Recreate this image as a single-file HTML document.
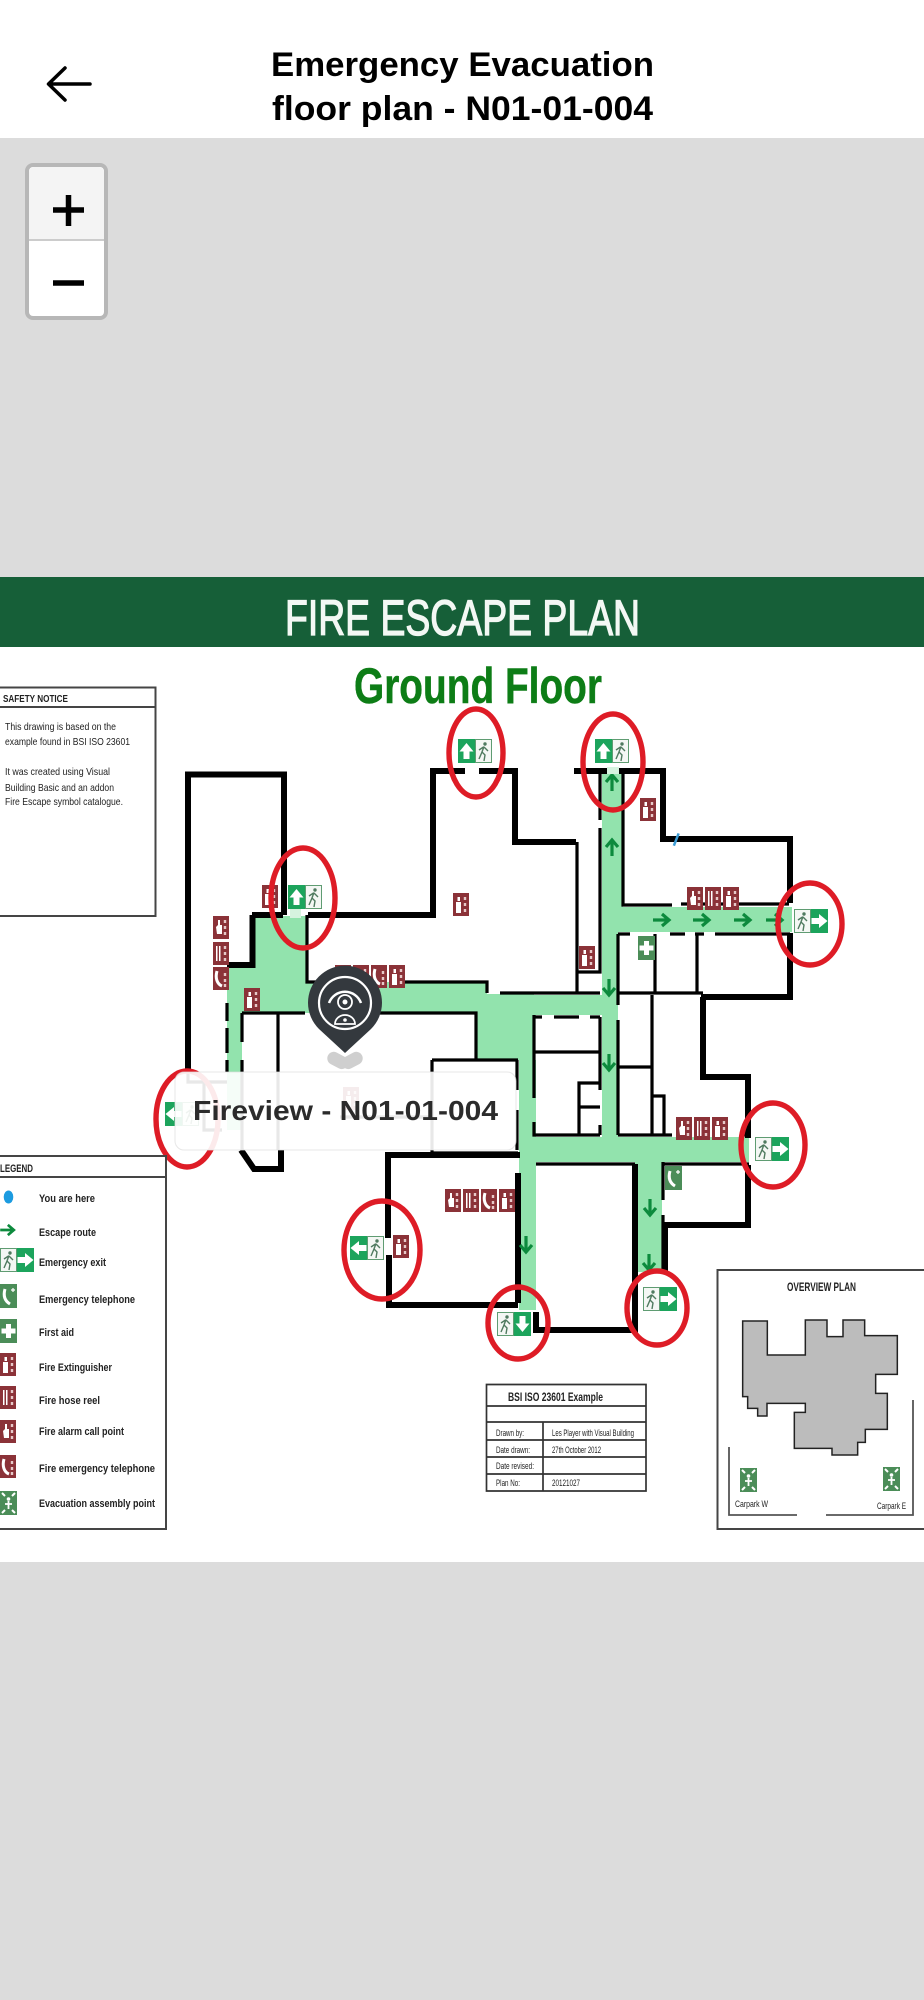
<!DOCTYPE html>
<html lang="en"><head><meta charset="utf-8"><title>Emergency Evacuation floor plan - N01-01-004</title>
<style>html,body{margin:0;padding:0;background:#dcdcdc}svg{display:block}text{font-family:"Liberation Sans",sans-serif}</style></head>
<body>
<svg xmlns="http://www.w3.org/2000/svg" width="924" height="2000" viewBox="0 0 924 2000">
<defs>
<filter id="soft" filterUnits="userSpaceOnUse" x="-10" y="570" width="944" height="1000"><feGaussianBlur stdDeviation=".35"/></filter>
<path id="ar" d="M8.500 4 L15.500 12.500 H11.500 V20 H5.500 V12.500 H1.500 Z" fill="#fff"/>
<rect id="gb" width="17" height="24" fill="#1ba45b"/>
<g id="rn"><rect x=".5" y=".5" width="16" height="23" fill="#f4f7f4" stroke="#5f9c72"/><circle cx="10" cy="5" r="1.700" fill="#4f7a5f"/><path d="M9 7.500 L7 13 L10 16 L9 22 M7 13 L4 20 M9 8 L13 12 M8.500 8 L4 11" fill="none" stroke="#4f7a5f" stroke-width="1.400"/></g>
<path id="sa" d="M0 8 V-7 M-6 -1 L0 -8 L6 -1" fill="none" stroke="#0b8a3d" stroke-width="3.200"/>
<g id="re"><rect width="16" height="23" fill="#8b3338"/><rect x="3" y="9" width="5" height="11" fill="#fff"/><rect x="4.500" y="4" width="2.500" height="4" fill="#fff"/><path d="M12 4v3M12 10v3M12 16v3" stroke="#e7c9c9" stroke-width="2.400"/></g>
<g id="rh"><rect width="16" height="23" fill="#8b3338"/><path d="M3 4h1.500v15h-1.500zM6 4h1.500v15h-1.500z" fill="#fff"/><path d="M12 4v3M12 10v3M12 16v3" stroke="#e7c9c9" stroke-width="2.400"/></g>
<g id="ra"><rect width="16" height="23" fill="#8b3338"/><path d="M3 11 L5 9 V4 H7 V9 H9 V18 H4 Z" fill="#fff"/><path d="M12 4v3M12 10v3M12 16v3" stroke="#e7c9c9" stroke-width="2.400"/></g>
<g id="rt"><rect width="16" height="23" fill="#8b3338"/><path d="M4 4 C2 11 4 17 9 19" fill="none" stroke="#fff" stroke-width="3"/><path d="M12 6v3M12 12v3M12 17v3" stroke="#e7c9c9" stroke-width="2.400"/></g>
<g id="gf"><rect width="17" height="24" fill="#4c8d59"/><path d="M6 5h5v4.500h4.500v5H11v4.500H6v-4.500H1.500v-5H6z" fill="#fff"/></g>
<g id="gt"><rect width="17" height="24" fill="#4c8d59"/><path d="M5 5 C3 12 5 17 10 20" fill="none" stroke="#fff" stroke-width="3"/><path d="M13 4v4M11 6h4" stroke="#fff" stroke-width="1.200"/></g>
<g id="gm"><rect width="17" height="24" fill="#4c8d59"/><circle cx="8.500" cy="8" r="1.800" fill="#fff"/><path d="M8.500 10v8M5 13h7" stroke="#fff" stroke-width="1.800"/><path d="M2 2l3 3M15 2l-3 3M2 22l3-3M15 22l-3-3" stroke="#fff" stroke-width="2"/></g>
</defs>

<rect width="924" height="2000" fill="#dcdcdc"/>
<rect width="924" height="138" fill="#fff"/>
<text x="462.500" y="76" font-size="34" font-weight="700" text-anchor="middle" textLength="383" lengthAdjust="spacingAndGlyphs" fill="#000">Emergency Evacuation</text>
<text x="462.500" y="120" font-size="34" font-weight="700" text-anchor="middle" textLength="381" lengthAdjust="spacingAndGlyphs" fill="#000">floor plan - N01-01-004</text>
<path d="M90 84 H49 M65 68 L48.500 84 L65 100" fill="none" stroke="#000" stroke-width="3.500" stroke-linecap="round" stroke-linejoin="round"/>

<rect x="27" y="165" width="79" height="153" rx="6" fill="#fff" stroke="#b7b7b7" stroke-width="4"/>
<path d="M29 239 V172 a5 5 0 0 1 5 -5 H99 a5 5 0 0 1 5 5 V239 Z" fill="#f4f4f4"/>
<rect x="29" y="239" width="75" height="2" fill="#cccccc"/>
<path d="M53 210 H84 M68.500 195 V226 M53 283 H84" fill="none" stroke="#000" stroke-width="5.500"/>

<!-- plan sheet -->
<g filter="url(#soft)">
<rect x="-10" y="577" width="944" height="985" fill="#fff"/>
<rect x="-10" y="577" width="944" height="70" fill="#185f39"/>
<text x="285" y="635" font-size="50" textLength="355" lengthAdjust="spacingAndGlyphs" fill="#f3f8f4" stroke="#f3f8f4" stroke-width="1.300">FIRE ESCAPE PLAN</text>
<text x="354" y="703" font-size="50" font-weight="700" stroke="#0f7d18" stroke-width=".5" textLength="248" lengthAdjust="spacingAndGlyphs" fill="#0f7d18">Ground Floor</text>

<!-- safety notice -->
<path d="M-5 687.500 H155.500 V916 H-5 M-5 707 H155.500" fill="none" stroke="#444" stroke-width="2"/>
<g fill="#222" font-size="10.500">
<text x="3" y="702" font-weight="700" textLength="65" lengthAdjust="spacingAndGlyphs">SAFETY NOTICE</text>
<text x="5" y="730" textLength="111" lengthAdjust="spacingAndGlyphs">This drawing is based on the</text>
<text x="5" y="745" textLength="125" lengthAdjust="spacingAndGlyphs">example found in BSI ISO 23601</text>
<text x="5" y="775" textLength="105" lengthAdjust="spacingAndGlyphs">It was created using Visual</text>
<text x="5" y="791" textLength="109" lengthAdjust="spacingAndGlyphs">Building Basic and an addon</text>
<text x="5" y="805" textLength="118" lengthAdjust="spacingAndGlyphs">Fire Escape symbol catalogue.</text>
</g>

<!-- green corridors -->
<g fill="#92e3ad">
<rect x="254" y="916" width="52" height="97"/>
<rect x="290" y="900" width="11" height="18" fill="#d6f3df"/>
<rect x="227" y="965" width="28" height="48"/>
<rect x="227" y="1013" width="15" height="117"/>
<rect x="306" y="982" width="172" height="31"/>
<rect x="477" y="982" width="10" height="78"/>
<rect x="487" y="994" width="47" height="66"/>
<rect x="519" y="1060" width="17" height="250"/>
<rect x="534" y="995" width="68" height="20"/>
<rect x="602" y="770" width="21" height="162"/>
<rect x="602" y="932" width="16" height="205"/>
<rect x="623" y="907" width="169" height="25"/>
<rect x="519" y="1137" width="230" height="25"/>
<rect x="635" y="1162" width="27" height="110"/>
</g>

<!-- thick walls -->
<g fill="none" stroke="#000" stroke-width="6" stroke-linejoin="miter">
<path d="M188 1072 V774.500 H284 V915"/>
<path d="M252 915 H283 M252.500 915 V965 H227"/>
<path d="M308 915 H433 V771 H465 M479 771 H515 V842 H576"/>
<path d="M574 771 H607 M619 771 H663 V839 H790 V903 M790 933 V997 H701 M703 997 V1077 H748 V1138 M748 1165 V1225 H665 V1272"/>
<path d="M635 1164 V1330 H536 V1312 M518 1173 V1303 M388 1238 V1155 H520 M389 1255 V1305 H518"/>
<path d="M241 1150 L254 1169 H281 V1150"/>
</g>
<!-- thin walls -->
<g fill="none" stroke="#000" stroke-width="3.200">
<path d="M227 968 V985 M227 1003 V1021 M227 1028 V1053 M227 1060 V1072"/>
<path d="M242 1013 V1042 M242 1060 V1150 M242 1013 H305 M278 1013 V1150 M307 915 V982 H332 M380 1013 H476 V1060 M405 982 H487 V993 M500 993 H600"/>
<path d="M188 1072 V1082 H227 M204 1082 V1130 H222"/>
<path d="M432 1060 H518 M432 1060 V1153 M340 1117 H432 M517 1060 V1090 M517 1110 V1150 M432 1153 H518"/>
<path d="M534 1015 V1098 M534 1122 V1135 H600 M534 1017 H542 M554 1017 H579 M590 1017 H600 M535 1052 H600 M579 1135 V1083 H600 M579 1107 H600 M600 1017 V1090 M600 1125 V1135"/>
<path d="M600 770 V820 M600 828 V972 H577 M577 842 V993 M623 770 V905 H672 M681 904 H789"/>
<path d="M618 934 H630 M670 934 H685 M695 934 H704 M715 934 H790 M618 934 V1005 M618 1020 V1135 M655 934 V993 M697 934 V993 M618 993 H703 M652 995 V1135 M618 1067 H652 M652 1096 H664 V1135 M618 1135 H672 M740 1135 H749"/>
<path d="M663 1162 V1200 M663 1215 V1272 M663 1164 H749"/>
<path d="M536 1164 H635"/>
</g>
<path d="M675 833 L677 846" stroke="#3b9bd4" stroke-width="2.500" transform="rotate(30 676 840)"/>

<!-- red symbols -->
<use href="#re" x="262" y="885"/><use href="#ra" x="213" y="916"/><use href="#rh" x="213" y="942"/><use href="#rt" x="213" y="967"/><use href="#re" x="244" y="988"/>
<use href="#ra" x="335" y="965"/><use href="#rh" x="353" y="965"/><use href="#rt" x="371" y="965"/><use href="#re" x="389" y="965"/>
<use href="#re" x="453" y="893"/><use href="#re" x="640" y="798"/>
<use href="#ra" x="687" y="887"/><use href="#rh" x="705" y="887"/><use href="#re" x="723" y="887"/>
<use href="#re" x="579" y="946"/>
<use href="#gf" x="638" y="936"/>
<use href="#ra" x="676" y="1117"/><use href="#rh" x="694" y="1117"/><use href="#re" x="712" y="1117"/>
<use href="#gt" x="665" y="1166"/>
<use href="#ra" x="445" y="1189"/><use href="#rh" x="463" y="1189"/><use href="#rt" x="481" y="1189"/><use href="#re" x="499" y="1189"/>
<use href="#re" x="393" y="1235"/><use href="#re" x="343" y="1087"/>

<!-- route arrows -->
<use href="#sa" transform="translate(612 783)"/><use href="#sa" transform="translate(612 848)"/>
<use href="#sa" transform="translate(661 920) rotate(90)"/><use href="#sa" transform="translate(701 920) rotate(90)"/><use href="#sa" transform="translate(742 920) rotate(90)"/><use href="#sa" transform="translate(774 920) rotate(90)"/>
<use href="#sa" transform="translate(609 987) rotate(180)"/><use href="#sa" transform="translate(609 1062) rotate(180)"/>
<use href="#sa" transform="translate(526 1244) rotate(180)"/><use href="#sa" transform="translate(650 1207) rotate(180)"/><use href="#sa" transform="translate(649 1262) rotate(180)"/>

<!-- exit signs -->
<g transform="translate(288 885)"><use href="#gb"/><use href="#ar"/><use href="#rn" x="17"/></g>
<g transform="translate(458 739)"><use href="#gb"/><use href="#ar"/><use href="#rn" x="17"/></g>
<g transform="translate(595 739)"><use href="#gb"/><use href="#ar"/><use href="#rn" x="17"/></g>
<g transform="translate(794 909)"><use href="#rn"/><use href="#gb" x="17"/><use href="#ar" x="17" transform="rotate(90 25.500 12)"/></g>
<g transform="translate(755 1137)"><use href="#rn"/><use href="#gb" x="17"/><use href="#ar" x="17" transform="rotate(90 25.500 12)"/></g>
<g transform="translate(643 1287)"><use href="#rn"/><use href="#gb" x="17"/><use href="#ar" x="17" transform="rotate(90 25.500 12)"/></g>
<g transform="translate(497 1312)"><use href="#rn"/><use href="#gb" x="17"/><use href="#ar" x="17" transform="rotate(180 25.500 12)"/></g>
<g transform="translate(350 1236)"><use href="#gb"/><use href="#ar" transform="rotate(-90 8.500 12)"/><use href="#rn" x="17"/></g>
<g transform="translate(165 1102)"><use href="#gb"/><use href="#ar" transform="rotate(-90 8.500 12)"/><use href="#rn" x="17"/></g>

<!-- door openings -->
<g fill="#d6f3df"><rect x="607" y="767" width="12" height="7"/></g>

<!-- red ellipses -->
<g fill="none" stroke="#de1c26" stroke-width="5.400">
<ellipse cx="303" cy="898" rx="32" ry="50"/><ellipse cx="476" cy="753" rx="27" ry="44"/><ellipse cx="613" cy="762" rx="30" ry="48"/><ellipse cx="810" cy="924" rx="32" ry="41"/><ellipse cx="773" cy="1145" rx="32" ry="42"/><ellipse cx="657" cy="1308" rx="30" ry="37"/><ellipse cx="518" cy="1323" rx="30" ry="36"/><ellipse cx="382" cy="1250" rx="38" ry="49"/><ellipse cx="187" cy="1119" rx="31" ry="48"/>
</g>

<!-- legend -->
<path d="M-5 1156 H166 V1529 H-5 M-5 1177 H166" fill="none" stroke="#444" stroke-width="2"/>
<g fill="#222" font-size="11" font-weight="700">
<text x="0" y="1172" textLength="33" lengthAdjust="spacingAndGlyphs">LEGEND</text>
<text x="39" y="1202" textLength="56" lengthAdjust="spacingAndGlyphs">You are here</text>
<text x="39" y="1236" textLength="57" lengthAdjust="spacingAndGlyphs">Escape route</text>
<text x="39" y="1266" textLength="67" lengthAdjust="spacingAndGlyphs">Emergency exit</text>
<text x="39" y="1303" textLength="96" lengthAdjust="spacingAndGlyphs">Emergency telephone</text>
<text x="39" y="1336" textLength="35" lengthAdjust="spacingAndGlyphs">First aid</text>
<text x="39" y="1371" textLength="73" lengthAdjust="spacingAndGlyphs">Fire Extinguisher</text>
<text x="39" y="1404" textLength="61" lengthAdjust="spacingAndGlyphs">Fire hose reel</text>
<text x="39" y="1435" textLength="85" lengthAdjust="spacingAndGlyphs">Fire alarm call point</text>
<text x="39" y="1472" textLength="116" lengthAdjust="spacingAndGlyphs">Fire emergency telephone</text>
<text x="39" y="1507" textLength="116" lengthAdjust="spacingAndGlyphs">Evacuation assembly point</text>
</g>
<ellipse cx="8.500" cy="1197" rx="4.800" ry="6.500" fill="#1d9be0"/>
<use href="#sa" transform="translate(7 1230) rotate(90) scale(.85)"/>
<g transform="translate(0 1248)"><use href="#rn"/><use href="#gb" x="17"/><use href="#ar" x="17" transform="rotate(90 25.500 12)"/></g>
<use href="#gt" x="0" y="1284"/><use href="#gf" x="0" y="1319"/><use href="#re" x="0" y="1353"/><use href="#rh" x="0" y="1386"/><use href="#ra" x="0" y="1420"/><use href="#rt" x="0" y="1455"/><use href="#gm" x="0" y="1491"/>

<!-- title block -->
<path d="M486.500 1384.500 H646 V1491 H486.500 Z M486.500 1406 H646 M486.500 1422 H646 M486.500 1440 H646 M486.500 1457 H646 M486.500 1474 H646 M543 1422 V1491" fill="none" stroke="#333" stroke-width="1.700"/>
<g fill="#222" font-size="9.500">
<text x="508" y="1401" font-size="12" font-weight="700" textLength="95" lengthAdjust="spacingAndGlyphs">BSI ISO 23601 Example</text>
<text x="496" y="1436" textLength="28" lengthAdjust="spacingAndGlyphs">Drawn by:</text>
<text x="552" y="1436" textLength="82" lengthAdjust="spacingAndGlyphs">Les Player with Visual Building</text>
<text x="496" y="1453" textLength="34" lengthAdjust="spacingAndGlyphs">Date drawn:</text>
<text x="552" y="1453" textLength="49" lengthAdjust="spacingAndGlyphs">27th October 2012</text>
<text x="496" y="1469" textLength="38" lengthAdjust="spacingAndGlyphs">Date revised:</text>
<text x="496" y="1486" textLength="24" lengthAdjust="spacingAndGlyphs">Plan No:</text>
<text x="552" y="1486" textLength="28" lengthAdjust="spacingAndGlyphs">20121027</text>
</g>

<!-- overview -->
<path d="M934 1270 H717.500 V1529 H934" fill="none" stroke="#444" stroke-width="2"/>
<text x="787" y="1291" font-size="12" font-weight="700" fill="#222" textLength="69" lengthAdjust="spacingAndGlyphs">OVERVIEW PLAN</text>
<polygon transform="translate(462 1060) scale(.33333)" fill="#bcbcbc" stroke="#222" stroke-width="4.500" points="842,783 916,783 916,885 1030,885 1030,780 1095,780 1095,830 1143,830 1143,780 1208,780 1208,827 1306,827 1306,943 1241,943 1241,1000 1276,1000 1276,1108 1210,1108 1210,1147 1187,1147 1187,1185 1110,1185 1110,1165 997,1165 997,1057 1030,1057 1030,1030 915,1030 915,1068 887,1068 887,1045 857,1045 857,1010 842,1010"/>
<path d="M729 1447 V1515 H797 M826 1515 H913 V1400" fill="none" stroke="#555" stroke-width="1.800"/>
<use href="#gm" x="740" y="1468"/><use href="#gm" x="883" y="1467"/>
<text x="735" y="1507" font-size="9.500" fill="#222" textLength="33" lengthAdjust="spacingAndGlyphs">Carpark W</text>
<text x="877" y="1509" font-size="9.500" fill="#222" textLength="29" lengthAdjust="spacingAndGlyphs">Carpark E</text>
</g>

<!-- popup -->
<rect x="175" y="1072" width="341" height="78" rx="9" fill="#fff" fill-opacity=".91" stroke="#dddddd" stroke-opacity=".7"/>
<text x="193" y="1120" font-size="28" font-weight="700" fill="#2b2b2b" textLength="305" lengthAdjust="spacingAndGlyphs">Fireview - N01-01-004</text>

<!-- pin -->
<g fill="#cfcfcf"><rect x="327" y="1054" width="22" height="13" rx="6.500" transform="rotate(28 338 1060)"/><rect x="341" y="1054" width="22" height="13" rx="6.500" transform="rotate(-28 352 1060)"/></g>
<path d="M345 1053 L319 1029 A37 37 0 1 1 371 1029 Z" fill="#34393e"/>
<circle cx="345" cy="1003" r="26" fill="none" stroke="#fff" stroke-width="2.200"/>
<path d="M329 1003 A17 17 0 0 1 361 1003" fill="none" stroke="#fff" stroke-width="2.500"/>
<circle cx="345" cy="1002" r="7" fill="none" stroke="#fff" stroke-width="1.800"/><circle cx="345" cy="1002" r="2.500" fill="#fff"/>
<path d="M335 1024 A10 9 0 0 1 355 1024 Z" fill="none" stroke="#fff" stroke-width="1.800"/><circle cx="345" cy="1020" r="1.800" fill="#fff"/>
</svg>
</body></html>
